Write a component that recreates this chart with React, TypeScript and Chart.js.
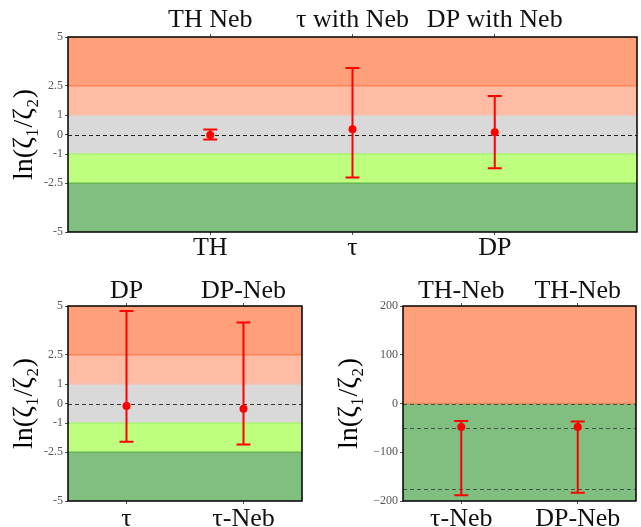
import React, { useEffect, useRef } from 'react';
import { Chart, registerables } from 'chart.js';
Chart.register(...registerables);

const FONT = '"Liberation Serif", "DejaVu Serif", serif';
const Y_TITLE = 'ln(ζ₁/ζ₂)';

// ---- Top panel data ----
const topBottomLabels = ['TH', 'τ', 'DP'];
const topTopLabels = ['TH Neb', 'τ with Neb', 'DP with Neb'];
const topX = [1, 2, 3];
const topValues = [-0.02, 0.27, 0.12];
const topLow = [-0.26, -2.21, -1.73];
const topHigh = [0.26, 3.41, 1.97];

// ---- Bottom-left panel data ----
const blBottomLabels = ['τ', 'τ-Neb'];
const blTopLabels = ['DP', 'DP-Neb'];
const blX = [1, 3];
const blValues = [-0.13, -0.27];
const blLow = [-1.96, -2.1];
const blHigh = [4.75, 4.16];

// ---- Bottom-right panel data ----
const brBottomLabels = ['τ-Neb', 'DP-Neb'];
const brTopLabels = ['TH-Neb', 'TH-Neb'];
const brX = [1, 3];
const brValues = [-48, -48];
const brLow = [-188, -183];
const brHigh = [-36, -37];

// ---- Shared scale/band definitions ----
const lnTicks = [-5, -2.5, -1, 0, 1, 2.5, 5];
const lnTickLabels = ['-5', '-2.5', '-1', '0', '1', '2.5', '5'];
const lnBandEdges = [-5, -2.5, -1, 1, 2.5, 5];
const lnBandColors = ['rgb(128,191,128)', 'rgb(191,255,127)', 'rgb(217,217,217)', 'rgb(255,188,165)', 'rgb(255,160,122)'];
const lnEdgeColors = ['rgb(105,180,85)', 'rgb(170,240,115)', 'rgb(240,195,182)', 'rgb(255,130,90)'];
const lnDashes = [0];

const brTicks = [-200, -100, 0, 100, 200];
const brTickLabels = ['−200', '−100', '0', '100', '200'];
const brBandEdges = [-200, 0, 200];
const brBandColors = ['rgb(128,191,128)', 'rgb(255,160,122)'];
const brEdgeColors = ['rgb(230,140,90)'];
const brDashes = [0, -50, -175];

type PanelCfg = {
  left: number; top: number; width: number; height: number;
  yAxisW: number; topAxisH: number; bottomAxisH: number; padRight: number; titlePad: number;
  topPad: number; bottomPad: number;
  xs: number[]; bottomLabels: string[]; topLabels: string[];
  values: number[]; low: number[]; high: number[];
  yMin: number; yMax: number; yTicks: number[]; yTickLabels: string[];
  bandEdges: number[]; bandColors: string[]; edgeColors: string[];
  dashes: number[]; dashColor: string;
};

const panels: PanelCfg[] = [
  {
    left: 0, top: 0, width: 641, height: 260,
    yAxisW: 68, topAxisH: 37, bottomAxisH: 28, padRight: 3, titlePad: 8,
    topPad: -2, bottomPad: -2,
    xs: topX, bottomLabels: topBottomLabels, topLabels: topTopLabels,
    values: topValues, low: topLow, high: topHigh,
    yMin: -5, yMax: 5, yTicks: lnTicks, yTickLabels: lnTickLabels,
    bandEdges: lnBandEdges, bandColors: lnBandColors, edgeColors: lnEdgeColors,
    dashes: lnDashes, dashColor: 'rgba(0,0,0,0.85)',
  },
  {
    left: 0, top: 260, width: 320, height: 267,
    yAxisW: 68, topAxisH: 46, bottomAxisH: 26, padRight: 18, titlePad: 8,
    topPad: -4, bottomPad: 0,
    xs: blX, bottomLabels: blBottomLabels, topLabels: blTopLabels,
    values: blValues, low: blLow, high: blHigh,
    yMin: -5, yMax: 5, yTicks: lnTicks, yTickLabels: lnTickLabels,
    bandEdges: lnBandEdges, bandColors: lnBandColors, edgeColors: lnEdgeColors,
    dashes: lnDashes, dashColor: 'rgba(0,0,0,0.75)',
  },
  {
    left: 320, top: 260, width: 321, height: 267,
    yAxisW: 83, topAxisH: 46, bottomAxisH: 26, padRight: 5, titlePad: 13,
    topPad: -4, bottomPad: 0,
    xs: brX, bottomLabels: brBottomLabels, topLabels: brTopLabels,
    values: brValues, low: brLow, high: brHigh,
    yMin: -200, yMax: 200, yTicks: brTicks, yTickLabels: brTickLabels,
    bandEdges: brBandEdges, bandColors: brBandColors, edgeColors: brEdgeColors,
    dashes: brDashes, dashColor: 'rgba(50,50,50,0.75)',
  },
];

function Panel({ cfg }: { cfg: PanelCfg }) {
  const ref = useRef<HTMLCanvasElement>(null);
  useEffect(() => {
    if (!ref.current) return;
    const decor = {
      id: 'decor',
      beforeDatasetsDraw(chart: any) {
        const { ctx, chartArea: a, scales } = chart;
        const y = scales.y;
        const x = scales.x;
        ctx.save();
        ctx.beginPath();
        ctx.rect(a.left, a.top, a.right - a.left, a.bottom - a.top);
        ctx.clip();
        for (let i = 0; i < cfg.bandColors.length; i++) {
          const y1 = y.getPixelForValue(cfg.bandEdges[i + 1]);
          const y2 = y.getPixelForValue(cfg.bandEdges[i]);
          ctx.fillStyle = cfg.bandColors[i];
          ctx.fillRect(a.left, y1, a.right - a.left, y2 - y1);
        }
        for (let i = 0; i < cfg.edgeColors.length; i++) {
          const yy = y.getPixelForValue(cfg.bandEdges[i + 1]);
          ctx.strokeStyle = cfg.edgeColors[i];
          ctx.lineWidth = 1.5;
          ctx.beginPath();
          ctx.moveTo(a.left, yy);
          ctx.lineTo(a.right, yy);
          ctx.stroke();
        }
        ctx.setLineDash([4, 3]);
        ctx.strokeStyle = cfg.dashColor;
        ctx.lineWidth = 1;
        for (const d of cfg.dashes) {
          const yy = Math.round(y.getPixelForValue(d)) + 0.5;
          ctx.beginPath();
          ctx.moveTo(a.left, yy);
          ctx.lineTo(a.right, yy);
          ctx.stroke();
        }
        ctx.setLineDash([]);
        ctx.strokeStyle = 'rgb(255,0,0)';
        ctx.lineWidth = 2;
        for (let i = 0; i < cfg.xs.length; i++) {
          const px = x.getPixelForValue(cfg.xs[i]);
          const yl = y.getPixelForValue(cfg.low[i]);
          const yh = y.getPixelForValue(cfg.high[i]);
          ctx.beginPath();
          ctx.moveTo(px, yl);
          ctx.lineTo(px, yh);
          ctx.moveTo(px - 7, yl);
          ctx.lineTo(px + 7, yl);
          ctx.moveTo(px - 7, yh);
          ctx.lineTo(px + 7, yh);
          ctx.stroke();
        }
        ctx.restore();
      },
      afterDatasetsDraw(chart: any) {
        const { ctx, chartArea: a } = chart;
        ctx.save();
        ctx.strokeStyle = '#000';
        ctx.lineWidth = 1.5;
        ctx.strokeRect(a.left, a.top, a.right - a.left, a.bottom - a.top);
        ctx.restore();
      },
    };
    const xCommon = (labels: string[], h: number, pad: number) => ({
      type: 'linear' as const,
      min: 0,
      max: 4,
      afterBuildTicks: (s: any) => { s.ticks = cfg.xs.map((v) => ({ value: v })); },
      afterFit: (s: any) => { s.height = h; },
      ticks: {
        callback: (_v: any, i: number) => labels[i],
        font: { family: FONT, size: 26 },
        color: '#111',
        padding: pad,
        autoSkip: false,
        maxRotation: 0,
      },
      grid: { display: true, drawOnChartArea: false, drawTicks: true, tickLength: 3, color: '#555' },
      border: { display: false },
    });
    const chart = new Chart(ref.current, {
      type: 'scatter',
      data: {
        datasets: [{
          data: cfg.xs.map((v, i) => ({ x: v, y: cfg.values[i] })),
          pointRadius: 4,
          pointBackgroundColor: 'rgb(255,0,0)',
          pointBorderColor: 'rgb(255,0,0)',
          pointBorderWidth: 0,
        }],
      },
      options: {
        animation: false,
        responsive: false,
        events: [],
        layout: { padding: { left: 0, right: cfg.padRight, top: 0, bottom: 0 } },
        plugins: { legend: { display: false }, tooltip: { enabled: false } },
        scales: {
          x: { ...xCommon(cfg.bottomLabels, cfg.bottomAxisH, cfg.bottomPad), position: 'bottom' },
          x2: { ...xCommon(cfg.topLabels, cfg.topAxisH, cfg.topPad), position: 'top', axis: 'x' },
          y: {
            type: 'linear',
            min: cfg.yMin,
            max: cfg.yMax,
            afterBuildTicks: (s: any) => { s.ticks = cfg.yTicks.map((v) => ({ value: v })); },
            afterFit: (s: any) => { s.width = cfg.yAxisW; },
            ticks: {
              callback: (_v: any, i: number) => cfg.yTickLabels[i],
              font: { family: FONT, size: 12 },
              color: '#555',
              padding: 2,
              autoSkip: false,
            },
            grid: { display: true, drawOnChartArea: false, drawTicks: true, tickLength: 3, color: '#555' },
            border: { display: false },
            title: {
              display: true,
              text: Y_TITLE,
              font: { family: FONT, size: 28 },
              color: '#000',
              padding: { top: cfg.titlePad, bottom: 0 },
            },
          },
        } as any,
      },
      plugins: [decor],
    });
    return () => chart.destroy();
  }, [cfg]);
  return (
    <div style={{ position: 'absolute', left: cfg.left, top: cfg.top, width: cfg.width, height: cfg.height }}>
      <canvas ref={ref} width={cfg.width} height={cfg.height} style={{ display: 'block' }} />
    </div>
  );
}

export default function App() {
  return (
    <div style={{ position: 'absolute', left: 0, top: 0, width: 641, height: 527, background: '#fff', overflow: 'hidden' }}>
      {panels.map((p, i) => <Panel key={i} cfg={p} />)}
    </div>
  );
}
